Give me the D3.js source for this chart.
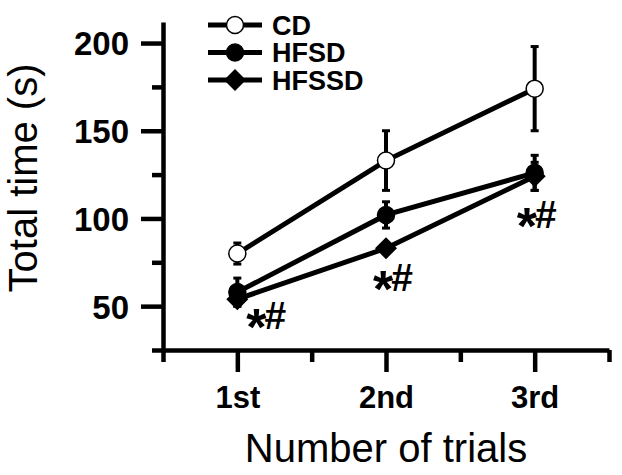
<!DOCTYPE html>
<html>
<head>
<meta charset="utf-8">
<script src="https://cdn.jsdelivr.net/npm/d3@7"></script>
<style>
body { margin: 0; background: #fff; }
text { font-family: "Liberation Sans", Arial, sans-serif; fill: #000; }
.axis path, .axis line { stroke: #000; stroke-width: 4.5px; }
</style>
</head>
<body>
<div id="chart"></div>
<script>
var w = 622, h = 475

// data
var trials = ["1st", "2nd", "3rd"]
var groups = ["CD", "HFSD", "HFSSD"]
var cdMean = [80, 133, 174]
var cdSem = [6, 17, 24]
var hfsdMean = [58, 102, 126]
var hfsdSem = [8, 7.5, 10]
var hfssdMean = [54, 83, 124]
var hfssdSem = [4, 3, 8]
var yMajor = [50, 100, 150, 200]
var yMinor = [25, 75, 125, 175]
var sigLabel = ["*", "#"]

var svg = d3.select("#chart")
	.append("svg")
	.attr("width", w)
	.attr("height", h)

var x = d3.scaleLinear()
	.domain([0.5, 3.5])
	.range([163, 609])

var y = d3.scaleLinear()
	.domain([25, 212])
	.range([350, 22])

// axes
var yAxisG = svg.append("g")
	.attr("class", "axis")
	.attr("transform", "translate(" + x(0.5) + ",0)")
	.call(d3.axisLeft(y).tickValues(yMajor).tickSize(22).tickSizeOuter(0).tickPadding(12))
yAxisG.selectAll("text")
	.style("font-size", "33px")
	.style("font-weight", "bold")
	.attr("dy", "0.36em")
svg.append("g")
	.attr("class", "axis")
	.attr("transform", "translate(" + x(0.5) + ",0)")
	.call(d3.axisLeft(y).tickValues(yMinor).tickSize(11).tickFormat(""))
	.select(".domain").remove()

var xAxisG = svg.append("g")
	.attr("class", "axis")
	.attr("transform", "translate(0," + y(25) + ")")
	.call(d3.axisBottom(x).tickValues([1, 2, 3]).tickSize(22).tickSizeOuter(0).tickPadding(14)
		.tickFormat(function(d) { return trials[d - 1] }))
xAxisG.selectAll("text")
	.style("font-size", "31px")
	.style("font-weight", "bold")
	.attr("dy", "0.71em")
svg.append("g")
	.attr("class", "axis")
	.attr("transform", "translate(0," + y(25) + ")")
	.call(d3.axisBottom(x).tickValues([0.5, 1.5, 2.5, 3.5]).tickSize(12).tickFormat(""))
	.select(".domain").remove()

// axis titles
svg.append("text")
	.attr("transform", "translate(37,178) rotate(-90)")
	.attr("text-anchor", "middle")
	.style("font-size", "40px")
	.text("Total time (s)")

svg.append("text")
	.attr("x", (x(1) + x(3)) / 2)
	.attr("y", 462)
	.attr("text-anchor", "middle")
	.style("font-size", "40px")
	.text("Number of trials")

// series
var series = [
	{name: groups[0], mean: cdMean, sem: cdSem, shape: "open"},
	{name: groups[1], mean: hfsdMean, sem: hfsdSem, shape: "circle"},
	{name: groups[2], mean: hfssdMean, sem: hfssdSem, shape: "diamond"}
]

var line = d3.line()
	.x(function(d, i) { return x(i + 1) })
	.y(function(d) { return y(d) })

function drawMarker(g, shape) {
	if (shape == "diamond") {
		g.append("path")
			.attr("d", "M0,-11L11,0L0,11L-11,0Z")
			.attr("fill", "#000")
	} else {
		g.append("circle")
			.attr("r", 8.5)
			.attr("fill", shape == "open" ? "#fff" : "#000")
			.attr("stroke", "#000")
			.attr("stroke-width", 1.5)
	}
}

var plotG = svg.append("g")

// error bars first, lines, then markers on top
series.forEach(function(s) {
	var eb = plotG.append("g")
	s.mean.forEach(function(m, i) {
		var cx = x(i + 1)
		eb.append("line")
			.attr("x1", cx).attr("x2", cx)
			.attr("y1", y(m + s.sem[i])).attr("y2", y(m - s.sem[i]))
			.attr("stroke", "#000").attr("stroke-width", 4)
		;[m + s.sem[i], m - s.sem[i]].forEach(function(v) {
			eb.append("line")
				.attr("x1", cx - 4).attr("x2", cx + 4)
				.attr("y1", y(v)).attr("y2", y(v))
				.attr("stroke", "#000").attr("stroke-width", 3)
		})
	})
})

series.forEach(function(s) {
	plotG.append("path")
		.attr("d", line(s.mean))
		.attr("fill", "none")
		.attr("stroke", "#000")
		.attr("stroke-width", 5)
})

series.forEach(function(s) {
	s.mean.forEach(function(m, i) {
		var g = plotG.append("g")
			.attr("transform", "translate(" + x(i + 1) + "," + y(m) + ")")
		drawMarker(g, s.shape)
	})
})

// significance marks next to HFSSD points (big asterisk + hash)
var sigDx = [9, -13, -18]
var sigDy = [30, 43, 52]
hfssdMean.forEach(function(m, i) {
	var t = svg.append("text")
		.attr("x", x(i + 1) + sigDx[i])
		.attr("y", y(m) + sigDy[i])
		.style("font-weight", "bold")
	t.append("tspan")
		.style("font-size", "52px")
		.attr("dy", 16)
		.text(sigLabel[0])
	t.append("tspan")
		.style("font-size", "39px")
		.attr("dy", -16)
		.attr("dx", -2)
		.text(sigLabel[1])
})

// legend
var legend = svg.append("g")
	.attr("transform", "translate(208,25)")
series.forEach(function(s, i) {
	var g = legend.append("g")
		.attr("transform", "translate(0," + i * 27.5 + ")")
	g.append("line")
		.attr("x1", 0).attr("x2", 54)
		.attr("stroke", "#000").attr("stroke-width", 5)
	var m = g.append("g").attr("transform", "translate(27,0)")
	drawMarker(m, s.shape)
	g.append("text")
		.attr("x", 64)
		.attr("dy", "0.36em")
		.style("font-size", "27px")
		.style("font-weight", "bold")
		.text(s.name)
})
</script>
</body>
</html>
